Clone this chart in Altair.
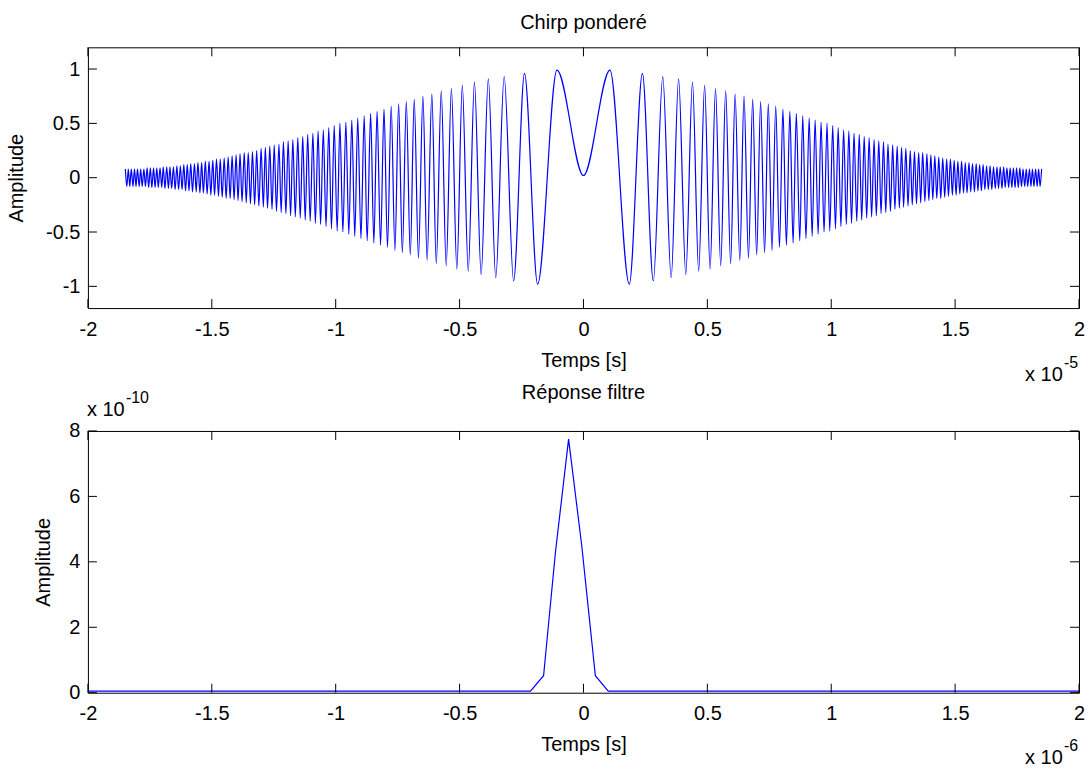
import altair as alt
import pandas as pd

# ---------------- data ----------------
# Top panel: times (x 1e-5 s) of the successive extrema of the weighted chirp, t > 0
chirp_t = [
    0.107, 0.185, 0.238, 0.282, 0.320, 0.354, 0.384, 0.413, 0.440, 0.465,
    0.489, 0.511, 0.533, 0.554, 0.574, 0.594, 0.612, 0.631, 0.648, 0.666,
    0.683, 0.699, 0.715, 0.731, 0.746, 0.761, 0.776, 0.791, 0.805, 0.819,
    0.833, 0.846, 0.859, 0.873, 0.885, 0.898, 0.911, 0.923, 0.935, 0.947,
    0.959, 0.971, 0.983, 0.994, 1.006, 1.017, 1.028, 1.039, 1.050, 1.061,
    1.071, 1.082, 1.092, 1.103, 1.113, 1.123, 1.133, 1.143, 1.153, 1.163,
    1.173, 1.182, 1.192, 1.201, 1.211, 1.220, 1.229, 1.239, 1.248, 1.257,
    1.266, 1.275, 1.284, 1.292, 1.301, 1.310, 1.319, 1.327, 1.336, 1.344,
    1.353, 1.361, 1.369, 1.378, 1.386, 1.394, 1.402, 1.410, 1.418, 1.426,
    1.434, 1.442, 1.450, 1.458, 1.466, 1.473, 1.481, 1.489, 1.496, 1.504,
    1.511, 1.519, 1.526, 1.534, 1.541, 1.548, 1.556, 1.563, 1.570, 1.578,
    1.585, 1.592, 1.599, 1.606, 1.613, 1.620, 1.627, 1.634, 1.641, 1.648,
    1.655, 1.662, 1.669, 1.675, 1.682, 1.689, 1.696, 1.702, 1.709, 1.716,
    1.722, 1.729, 1.735, 1.742, 1.748, 1.755, 1.761, 1.768, 1.774, 1.781,
    1.787, 1.793, 1.800, 1.806, 1.812, 1.818, 1.825, 1.831, 1.837, 1.843,
    1.849,
]
# amplitude at each of those extrema
chirp_v = [
    0.99, -0.98, 0.96, -0.95, 0.93, -0.92, 0.91, -0.89, 0.88, -0.86,
    0.85, -0.84, 0.82, -0.81, 0.80, -0.79, 0.77, -0.76, 0.75, -0.74,
    0.72, -0.71, 0.70, -0.69, 0.68, -0.67, 0.66, -0.64, 0.63, -0.62,
    0.61, -0.60, 0.59, -0.58, 0.57, -0.56, 0.55, -0.54, 0.53, -0.52,
    0.51, -0.50, 0.50, -0.49, 0.48, -0.47, 0.46, -0.45, 0.44, -0.43,
    0.43, -0.42, 0.41, -0.40, 0.40, -0.39, 0.38, -0.37, 0.37, -0.36,
    0.35, -0.35, 0.34, -0.33, 0.33, -0.32, 0.31, -0.31, 0.30, -0.29,
    0.29, -0.28, 0.28, -0.27, 0.27, -0.26, 0.25, -0.25, 0.24, -0.24,
    0.23, -0.23, 0.23, -0.22, 0.22, -0.21, 0.21, -0.20, 0.20, -0.19,
    0.19, -0.19, 0.18, -0.18, 0.17, -0.17, 0.17, -0.16, 0.16, -0.16,
    0.15, -0.15, 0.15, -0.14, 0.14, -0.14, 0.14, -0.13, 0.13, -0.13,
    0.13, -0.12, 0.12, -0.12, 0.12, -0.11, 0.11, -0.11, 0.11, -0.11,
    0.10, -0.10, 0.10, -0.10, 0.10, -0.10, 0.10, -0.09, 0.09, -0.09,
    0.09, -0.09, 0.09, -0.09, 0.09, -0.09, 0.09, -0.08, 0.08, -0.08,
    0.08, -0.08, 0.08, -0.08, 0.08, -0.08, 0.08, -0.08, 0.08, -0.08,
    0.08,
]
chirp_center = [0.0, 0.02]          # (time, value) of the central dip

# Bottom panel: filter response (x 1e-6 s, x 1e-10)
filt_t = [-2.0, -0.214, -0.161, -0.113, -0.060, -0.007, 0.048, 0.100, 2.0]
filt_v = [0.05, 0.05, 0.52, 4.30, 7.75, 4.50, 0.52, 0.05, 0.05]

x_ticks = [-2, -1.5, -1, -0.5, 0, 0.5, 1, 1.5, 2]
y_ticks_top = [-1, -0.5, 0, 0.5, 1]
y_ticks_bot = [0, 2, 4, 6, 8]

titles = ["Chirp ponderé", "Réponse filtre"]
x_title = "Temps [s]"
y_title = "Amplitude"
exp_base = "x 10"
exp_powers = ["-5", "-10", "-6"]

# ---------------- chart ----------------
W, H1, H2 = 992, 261, 262
GAP = 123
FONT = "Liberation Sans"
BLUE = "#0000ff"
TICK = 9
LBL = 20
TTL = 20

# the chirp is symmetric in time: mirror the positive half
ts = [-t for t in reversed(chirp_t)] + [chirp_center[0]] + chirp_t
vs = list(reversed(chirp_v)) + [chirp_center[1]] + chirp_v
chirp_df = pd.DataFrame({"t": ts, "v": vs})
filt_df = pd.DataFrame({"t": filt_t, "v": filt_v})


def text_layer(s, x, y, size):
    return alt.Chart(pd.DataFrame({"s": [s]})).mark_text(
        align="left", baseline="alphabetic", font=FONT, fontSize=size, color="black"
    ).encode(text="s:N", x=alt.value(x), y=alt.value(y))


def panel(df, ydom, yticks, title, height, interp, texts, ytp, toff):
    xs = alt.Scale(domain=[-2, 2], nice=False, zero=False)
    ys = alt.Scale(domain=ydom, nice=False, zero=False)
    xax = alt.Axis(values=x_ticks, title=x_title, labelExpr="toString(datum.value)")
    yax = alt.Axis(values=yticks, title=y_title, labelExpr="toString(datum.value)",
                   titlePadding=ytp)
    X = alt.X("t:Q", scale=xs, axis=xax)
    Y = alt.Y("v:Q", scale=ys, axis=yax)
    line = alt.Chart(df).mark_line(
        color=BLUE, strokeWidth=1.2, interpolate=interp, clip=True
    ).encode(x=X, y=Y)
    xt = pd.DataFrame({"t": x_ticks})
    yt = pd.DataFrame({"v": yticks})
    rule = dict(color="black", strokeWidth=1)
    tb = alt.Chart(xt).mark_rule(**rule).encode(
        x=X, y=alt.value(height), y2=alt.value(height - TICK))
    tt = alt.Chart(xt).mark_rule(**rule).encode(
        x=X, y=alt.value(0), y2=alt.value(TICK))
    tl = alt.Chart(yt).mark_rule(**rule).encode(
        y=Y, x=alt.value(0), x2=alt.value(TICK))
    tr = alt.Chart(yt).mark_rule(**rule).encode(
        y=Y, x=alt.value(W), x2=alt.value(W - TICK))
    layers = [line, tb, tt, tl, tr] + texts
    return alt.layer(*layers).properties(
        width=W, height=height,
        title=alt.TitleParams(title, font=FONT, fontSize=TTL, fontWeight="normal",
                              color="black", anchor="middle", offset=toff,
                              frame="group"),
    )


# the bottom panel's "x 10^-10" sits above that panel; it is drawn from the
# top panel's group so that it does not push the bottom title upward
off = H1 + GAP
top = panel(chirp_df, [-1.2, 1.2], y_ticks_top, titles[0], H1, "monotone", [
    text_layer(exp_base, 938, 334, LBL),
    text_layer(exp_powers[0], 977, 321, 16),
    text_layer(exp_base, -1, off - 15, LBL),
    text_layer(exp_powers[1], 38, off - 28, 16),
], ytp=19, toff=14)
bottom = panel(filt_df, [0, 8], y_ticks_bot, titles[1], H2, "linear", [
    text_layer(exp_base, 938, 333, LBL),
    text_layer(exp_powers[2], 977, 320, 16),
], ytp=15, toff=18)

chart = alt.vconcat(top, bottom, spacing=GAP, bounds="flush").properties(
    padding={"left": 6, "top": 12, "right": 5, "bottom": 2},
    background="white",
).configure_view(
    stroke="black", strokeWidth=1
).configure_axis(
    domain=False, ticks=False, tickSize=0, grid=False,
    labelFont=FONT, labelFontSize=LBL, labelColor="black",
    labelFlush=False, labelOverlap=False,
    titleFont=FONT, titleFontSize=TTL, titleFontWeight="normal", titleColor="black",
).configure_axisX(
    labelPadding=11, titlePadding=11
).configure_axisY(
    labelPadding=8
)

chart.save("out.html", embed_options={"renderer": "svg", "actions": False})
